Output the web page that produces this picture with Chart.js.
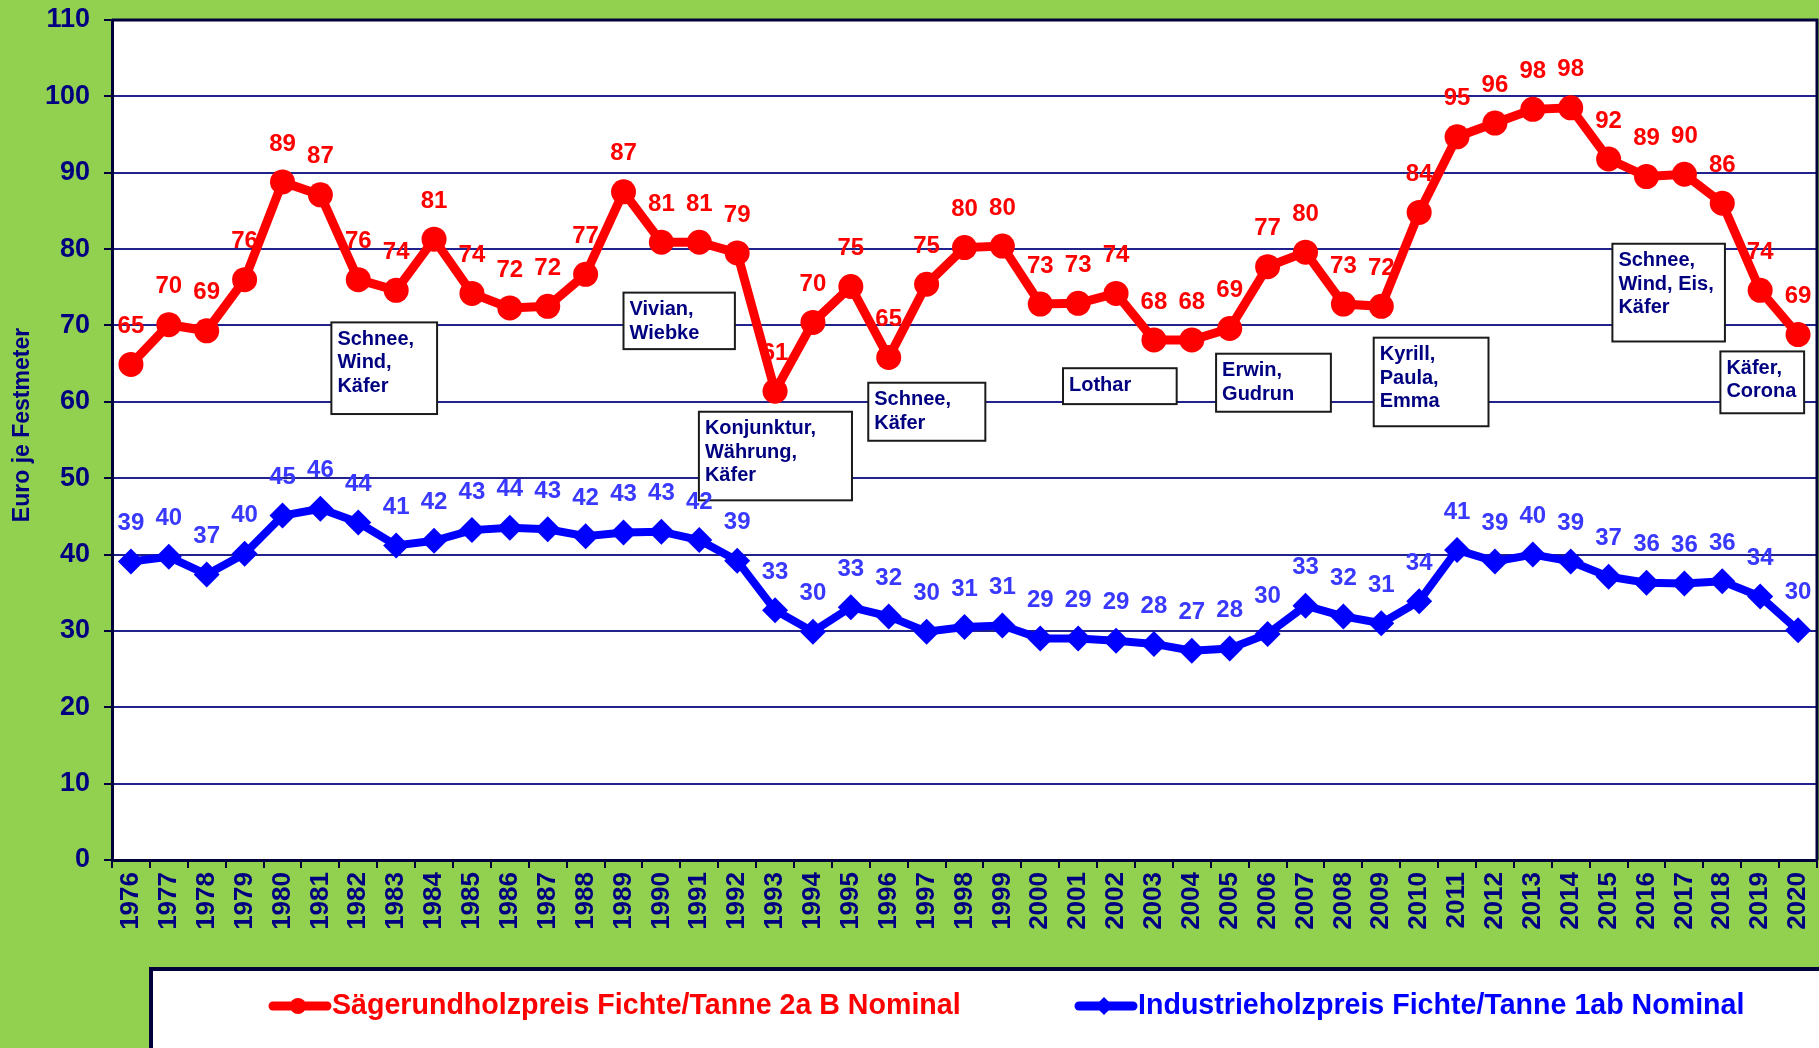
<!DOCTYPE html>
<html lang="de">
<head>
<meta charset="utf-8">
<title>Holzpreise Fichte/Tanne 1976–2020</title>
<script src="https://cdn.jsdelivr.net/npm/chart.js@4.4.1/dist/chart.umd.min.js"></script>
<style>
  html, body { margin: 0; padding: 0; background: #92d050; overflow: hidden; }
  #wrap { width: 1819px; height: 1048px; }
</style>
</head>
<body>
<div id="wrap"><canvas id="chart" width="1819" height="1048"></canvas></div>
<script>
// Holzpreise Fichte/Tanne, Euro je Festmeter (nominal), 1976–2020

const YEARS = ['1976', '1977', '1978', '1979', '1980', '1981', '1982', '1983', '1984', '1985',
    '1986', '1987', '1988', '1989', '1990', '1991', '1992', '1993', '1994', '1995',
    '1996', '1997', '1998', '1999', '2000', '2001', '2002', '2003', '2004', '2005',
    '2006', '2007', '2008', '2009', '2010', '2011', '2012', '2013', '2014', '2015',
    '2016', '2017', '2018', '2019', '2020'];

// Sägerundholz Fichte/Tanne 2a B
const SAW_PRICES = [64.9, 70.1, 69.3, 76.0, 88.8, 87.1, 76.0, 74.6, 81.3, 74.2,
    72.3, 72.5, 76.7, 87.5, 80.9, 80.9, 79.5, 61.4, 70.4, 75.1,
    65.8, 75.4, 80.2, 80.4, 72.8, 72.9, 74.2, 68.1, 68.1, 69.6,
    77.7, 79.6, 72.8, 72.5, 84.8, 94.7, 96.5, 98.3, 98.5, 91.8,
    89.5, 89.8, 86.0, 74.6, 68.8];
const SAW_LABELS = [65, 70, 69, 76, 89, 87, 76, 74, 81, 74,
    72, 72, 77, 87, 81, 81, 79, 61, 70, 75,
    65, 75, 80, 80, 73, 73, 74, 68, 68, 69,
    77, 80, 73, 72, 84, 95, 96, 98, 98, 92,
    89, 90, 86, 74, 69];

// Industrieholz Fichte/Tanne 1ab
const IND_PRICES = [39.1, 39.7, 37.4, 40.1, 45.1, 46.0, 44.2, 41.2, 41.8, 43.2,
    43.5, 43.3, 42.4, 42.9, 43.0, 41.9, 39.2, 32.7, 29.9, 33.1,
    31.9, 29.9, 30.5, 30.7, 29.0, 29.0, 28.7, 28.3, 27.4, 27.7,
    29.6, 33.3, 31.9, 31.0, 33.9, 40.6, 39.1, 40.0, 39.1, 37.1,
    36.3, 36.2, 36.5, 34.5, 30.1];
const IND_LABELS = [39, 40, 37, 40, 45, 46, 44, 41, 42, 43,
    44, 43, 42, 43, 43, 42, 39, 33, 30, 33,
    32, 30, 31, 31, 29, 29, 29, 28, 27, 28,
    30, 33, 32, 31, 34, 41, 39, 40, 39, 37,
    36, 36, 36, 34, 30];

const Y_TITLE = 'Euro je Festmeter';

// Ereignisse (Texte der Kästen)
const NOTES = [
    ['Schnee,', 'Wind,', 'Käfer'],
    ['Vivian,', 'Wiebke'],
    ['Konjunktur,', 'Währung,', 'Käfer'],
    ['Schnee,', 'Käfer'],
    ['Lothar'],
    ['Erwin,', 'Gudrun'],
    ['Kyrill,', 'Paula,', 'Emma'],
    ['Schnee,', 'Wind, Eis,', 'Käfer'],
    ['Käfer,', 'Corona'],
];
// Lage der Kästen in Achseneinheiten: [Index links, Index rechts, Wert oben, Wert unten]
const NOTE_BOXES = [
    [5.29, 8.08, 70.4, 58.4],
    [13.0, 15.94, 74.3, 66.9],
    [14.99, 19.03, 58.7, 47.1],
    [19.46, 22.55, 62.5, 54.9],
    [24.6, 27.6, 64.4, 59.7],
    [28.64, 31.67, 66.3, 58.7],
    [32.8, 35.83, 68.4, 56.8],
    [39.1, 42.07, 80.7, 67.9],
    [41.95, 44.16, 66.6, 58.5],
];

const FONT = '"Liberation Sans", Arial, Helvetica, sans-serif';
const NAVY = '#000080';
const DARK = '#00003c';
const GREEN = '#92d050';

// fraktionaler Index -> Pixel auf der Kategorienachse
function indexToPixel(scale, idx) {
    const i = Math.floor(idx);
    const a = scale.getPixelForValue(i);
    const b = scale.getPixelForValue(i + 1);
    return a + (b - a) * (idx - i);
}

const decorations = {
    id: 'decorations',
    beforeDraw(chart) {
        const { ctx, chartArea: a } = chart;
        ctx.save();
        ctx.fillStyle = GREEN;
        ctx.fillRect(0, 0, chart.width, chart.height);
        ctx.fillStyle = '#ffffff';
        ctx.fillRect(a.left, a.top, a.right - a.left, a.bottom - a.top);

        // Achsentitel
        ctx.translate(23, (a.top + a.bottom) / 2 - 15);
        ctx.rotate(-Math.PI / 2);
        ctx.fillStyle = NAVY;
        ctx.font = `bold 23px ${FONT}`;
        ctx.textAlign = 'center';
        ctx.textBaseline = 'middle';
        ctx.fillText(Y_TITLE, 0, 0);
        ctx.restore();
    },
    beforeDatasetsDraw(chart) {
        const { ctx } = chart;
        const xs = chart.scales.x;
        const ys = chart.scales.y;
        ctx.save();

        // Ereignis-Kästen
        NOTES.forEach((lines, n) => {
            const [i0, i1, v0, v1] = NOTE_BOXES[n];
            const left = indexToPixel(xs, i0);
            const right = indexToPixel(xs, i1);
            const top = ys.getPixelForValue(v0);
            const bottom = ys.getPixelForValue(v1);
            ctx.fillStyle = '#ffffff';
            ctx.fillRect(left, top, right - left, bottom - top);
            ctx.strokeStyle = '#1a1a1a';
            ctx.lineWidth = 2;
            ctx.strokeRect(left, top, right - left, bottom - top);
            ctx.fillStyle = NAVY;
            ctx.font = `bold 20px ${FONT}`;
            ctx.textAlign = 'left';
            ctx.textBaseline = 'middle';
            lines.forEach((line, k) => ctx.fillText(line, left + 6, top + 17 + k * 23.5));
        });

        // Datenbeschriftungen
        const labelSets = [
            { labels: SAW_LABELS, color: '#ff0000' },
            { labels: IND_LABELS, color: '#3838ff' },
        ];
        ctx.font = `bold 24px ${FONT}`;
        ctx.textAlign = 'center';
        ctx.textBaseline = 'middle';
        labelSets.forEach((set, d) => {
            const meta = chart.getDatasetMeta(d);
            ctx.fillStyle = set.color;
            meta.data.forEach((pt, i) => ctx.fillText(String(set.labels[i]), pt.x, pt.y - 38));
        });
        ctx.restore();
    },
    afterDraw(chart) {
        const { ctx, chartArea: a } = chart;
        ctx.save();
        // Rahmen oben und rechts
        ctx.strokeStyle = DARK;
        ctx.lineWidth = 3;
        ctx.beginPath();
        ctx.moveTo(a.left, a.top);
        ctx.lineTo(a.right, a.top);
        ctx.lineTo(a.right, a.bottom);
        ctx.stroke();

        // Legende
        ctx.fillStyle = '#ffffff';
        ctx.fillRect(151, 969, chart.width, 100);
        ctx.strokeStyle = DARK;
        ctx.lineWidth = 4;
        ctx.strokeRect(151, 969, chart.width, 100);

        const items = [{ x: 271, ds: 0 }, { x: 1077, ds: 1 }];
        const y = 1006;
        items.forEach(({ x, ds }) => {
            const dataset = chart.data.datasets[ds];
            ctx.strokeStyle = dataset.borderColor;
            ctx.fillStyle = dataset.borderColor;
            ctx.lineWidth = 9;
            ctx.lineCap = 'round';
            ctx.beginPath();
            ctx.moveTo(x + 2, y);
            ctx.lineTo(x + 56, y);
            ctx.stroke();
            ctx.beginPath();
            if (dataset.pointStyle === 'rectRot') {
                ctx.moveTo(x + 27, y - 9);
                ctx.lineTo(x + 36, y);
                ctx.lineTo(x + 27, y + 9);
                ctx.lineTo(x + 18, y);
            } else {
                ctx.arc(x + 27, y, 8, 0, Math.PI * 2);
            }
            ctx.fill();
            ctx.font = `bold 28.6px ${FONT}`;
            ctx.textAlign = 'left';
            ctx.textBaseline = 'middle';
            ctx.fillText(dataset.label, x + 61, y);
        });
        ctx.restore();
    },
};

new Chart(document.getElementById('chart'), {
    type: 'line',
    data: {
        labels: YEARS,
        datasets: [
            {
                label: 'Sägerundholzpreis Fichte/Tanne 2a B Nominal',
                data: SAW_PRICES,
                borderColor: '#ff0000',
                backgroundColor: '#ff0000',
                borderWidth: 9,
                pointStyle: 'circle',
                pointRadius: 12.5,
                pointBorderWidth: 0,
                tension: 0,
            },
            {
                label: 'Industrieholzpreis Fichte/Tanne 1ab Nominal',
                data: IND_PRICES,
                borderColor: '#0000ff',
                backgroundColor: '#0000ff',
                borderWidth: 8,
                pointStyle: 'rectRot',
                pointRadius: 13,
                pointBorderWidth: 0,
                tension: 0,
            },
        ],
    },
    options: {
        responsive: false,
        animation: false,
        layout: { autoPadding: false, padding: { top: 20, right: 2, left: 0, bottom: 0 } },
        plugins: { legend: { display: false }, tooltip: { enabled: false } },
        scales: {
            x: {
                offset: true,
                ticks: {
                    color: NAVY,
                    autoSkip: false,
                    maxRotation: 90,
                    minRotation: 90,
                    padding: 4,
                    font: { family: FONT, size: 26, weight: 'bold' },
                },
                grid: { drawOnChartArea: false, offset: true, tickLength: 8, color: DARK, lineWidth: 2 },
                border: { color: DARK, width: 3 },
                afterFit(scale) {
                    scale.height = 188;
                    scale.paddingLeft = 0;
                    scale.paddingRight = 0;
                },
            },
            y: {
                min: 0,
                max: 110,
                ticks: {
                    stepSize: 10,
                    color: NAVY,
                    padding: 14,
                    font: { family: FONT, size: 27, weight: 'bold' },
                },
                grid: { color: '#22228c', lineWidth: 2, tickLength: 8, tickColor: DARK },
                border: { color: DARK, width: 3 },
                afterFit(scale) {
                    scale.width = 112;
                    scale.paddingTop = 0;
                    scale.paddingBottom = 0;
                },
            },
        },
    },
    plugins: [decorations],
});
</script>
</body>
</html>
